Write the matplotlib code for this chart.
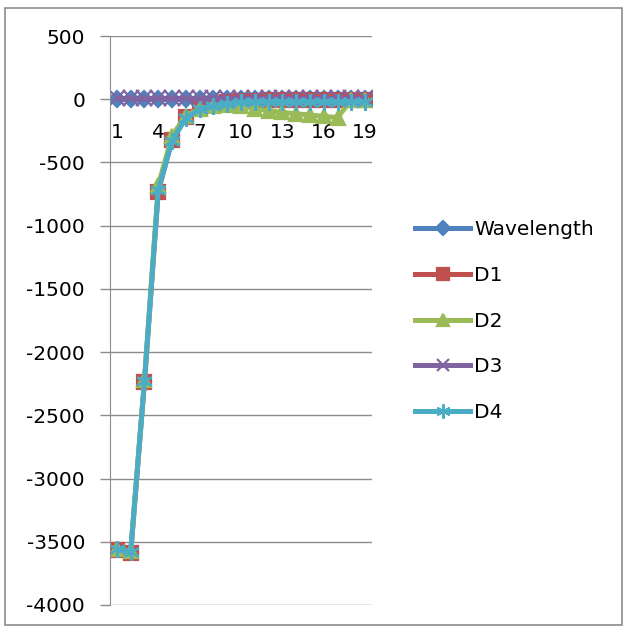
import matplotlib
matplotlib.use('Agg')
import matplotlib.pyplot as plt
from matplotlib.patches import Rectangle
import numpy as np

plt.rcParams['font.family'] = 'DejaVu Sans'
plt.rcParams['axes.unicode_minus'] = False

categories = list(range(1, 20))
tick_labels = ['1', '4', '7', '10', '13', '16', '19']

wavelength = [2, 2, 2, 2, 2, 2, 2, 2, 2, 2, 2, 2, 2, 2, 2, 2, 2, 2, 2]
d1 = [-3565, -3590, -2235, -730, -320, -140, -70, -40, -25, -15, -12, -10, -10, -10, -10, -10, -10, -10, -10]
d2 = [-3555, -3575, -2220, -680, -290, -130, -75, -50, -45, -55, -75, -90, -105, -115, -125, -135, -145, -5, -5]
d3 = [8, 8, 8, 8, 8, 8, 8, 8, 8, 8, 8, 8, 8, 8, 8, 8, 8, 8, 8]
d4 = [-3560, -3580, -2230, -720, -330, -150, -80, -50, -35, -25, -20, -20, -20, -20, -20, -20, -20, -20, -20]

series = [
    ('Wavelength', wavelength, '#4F81BD', 'D', 8),
    ('D1', d1, '#C0504D', 's', 10),
    ('D2', d2, '#9BBB59', '^', 10),
    ('D3', d3, '#8064A2', 'x', 11),
    ('D4', d4, '#4BACC6', (6, 2, 0), 12),
]

fig = plt.figure(figsize=(6.27, 6.28), dpi=100)
ax = fig.add_axes([110 / 627, 23 / 628, 262 / 627, 569 / 628])

for name, vals, color, marker, ms in series:
    ax.plot(categories, vals, color=color, lw=3.6, marker=marker, ms=ms,
            mec=color, mfc=color, mew=1.6, label=name)

ax.set_xlim(0.5, 19.5)
ax.set_ylim(-4000, 500)
ax.set_yticks(np.arange(-4000, 501, 500))
ax.yaxis.grid(True, color='#8c8c8c', lw=1)
ax.set_axisbelow(True)

ax.set_xticks([1, 4, 7, 10, 13, 16, 19])
ax.set_xticklabels(tick_labels)
ax.tick_params(axis='x', length=0, pad=17, labelsize=14.5)
ax.tick_params(axis='y', length=7, width=1, color='#8c8c8c', pad=11, labelsize=14.5)

for side in ['top', 'right']:
    ax.spines[side].set_visible(False)
ax.spines['left'].set_color('#8c8c8c')
ax.spines['bottom'].set_color('#8c8c8c')
ax.spines['bottom'].set_position(('data', 0))
ax.spines['bottom'].set_zorder(0)

ax.legend(loc='upper left', bbox_to_anchor=(415 / 627, 1 - 220 / 628),
          bbox_transform=fig.transFigure, frameon=False, fontsize=14.5,
          handlelength=2.75, handletextpad=0.2, labelspacing=1.33,
          borderaxespad=0, borderpad=0, markerscale=0.85)

fig.patches.append(Rectangle((5 / 627, 3 / 628), 617 / 627, 617 / 628,
                             transform=fig.transFigure, fill=False,
                             ec='#8c8c8c', lw=1.2))

fig.savefig('out.png', dpi=100)
